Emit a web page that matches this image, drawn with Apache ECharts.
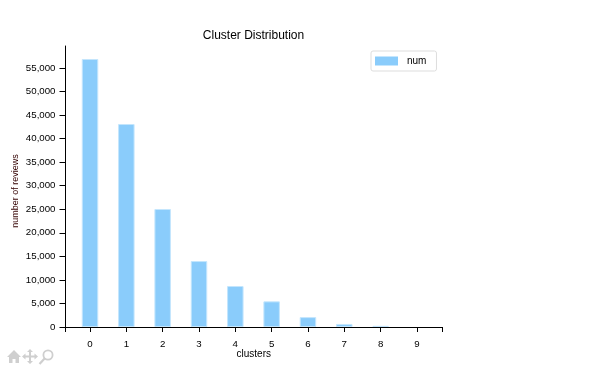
<!DOCTYPE html>
<html>
<head>
<meta charset="utf-8">
<style>
  html, body { margin: 0; padding: 0; background: #fff; }
  #chart { width: 594px; height: 391px; }
</style>
<script src="https://cdn.jsdelivr.net/npm/echarts@6/dist/echarts.min.js"></script>
</head>
<body>
<div id="chart"></div>
<script>
  const clusters = [0, 1, 2, 3, 4, 5, 6, 7, 8, 9]
  const num = [56900, 43100, 25050, 14000, 8700, 5450, 2100, 650, 250, 0]
  const seriesName = 'num'
  // the x axis runs a bit past the first and last cluster
  const xMin = -0.675
  const xMax = 9.69
  const yMax = 59660
  const yTicks = [0, 5000, 10000, 15000, 20000, 25000, 30000, 35000, 40000, 45000, 50000, 55000, yMax]

  const font = 'Arial, "Liberation Sans", sans-serif'
  const iconGrey = '#cfcfcf'
  const myChart = echarts.init(document.getElementById('chart'))

  // grey mpld3 style toolbar icons, only decoration
  const toolbar = [
    {
      type: 'polygon',
      shape: { points: [[7, 357], [14, 350], [21, 357], [19, 357], [19, 363], [15.5, 363], [15.5, 359], [12.5, 359], [12.5, 363], [9, 363], [9, 357]] },
      style: { fill: iconGrey },
    },
    {
      type: 'polygon',
      shape: { points: [[30, 349], [33, 352], [31, 352], [31, 355.5], [34.5, 355.5], [34.5, 353.5], [38, 356.5], [34.5, 359.5], [34.5, 357.5], [31, 357.5], [31, 361], [33, 361], [30, 364], [27, 361], [29, 361], [29, 357.5], [25.5, 357.5], [25.5, 359.5], [22, 356.5], [25.5, 353.5], [25.5, 355.5], [29, 355.5], [29, 352], [27, 352]] },
      style: { fill: iconGrey },
    },
    {
      type: 'circle',
      shape: { cx: 48, cy: 355, r: 4.6 },
      style: { fill: 'none', stroke: iconGrey, lineWidth: 1.8 },
    },
    {
      type: 'line',
      shape: { x1: 44.6, y1: 358.6, x2: 39.5, y2: 364 },
      style: { stroke: iconGrey, lineWidth: 2.2 },
    },
  ]

  myChart.setOption({
    animation: false,
    title: {
      text: 'Cluster Distribution',
      left: 248.5,
      top: 25,
      textAlign: 'center',
      textStyle: { fontFamily: font, fontSize: 12, fontWeight: 'normal', color: '#000' },
    },
    legend: {
      data: [seriesName],
      left: 371,
      top: 51,
      padding: [5, 10, 5, 4],
      itemWidth: 23,
      itemHeight: 9,
      itemGap: 0,
      borderColor: '#ddd',
      borderWidth: 1,
      borderRadius: 2,
      icon: 'rect',
      itemStyle: { borderWidth: 0 },
      textStyle: { fontFamily: font, fontSize: 10, color: '#000', padding: [0, 0, 0, 4] },
    },
    grid: { left: 65.5, top: 46, width: 376.5, height: 281, outerBoundsMode: 'none' },
    xAxis: {
      type: 'value',
      min: xMin,
      max: xMax,
      name: 'clusters',
      nameLocation: 'middle',
      nameGap: 22,
      nameMoveOverlap: false,
      nameTextStyle: { fontFamily: font, fontSize: 10, color: '#000' },
      splitLine: { show: false },
      axisLine: { show: true, onZero: false, lineStyle: { color: '#000', width: 1 } },
      axisTick: {
        show: true,
        length: 5,
        lineStyle: { color: '#000', width: 1 },
        customValues: [xMin, ...clusters, xMax],
      },
      axisLabel: {
        customValues: clusters,
        margin: 12,
        fontFamily: font,
        fontSize: 9.7,
        color: '#000',
      },
    },
    yAxis: {
      type: 'value',
      min: 0,
      max: yMax,
      interval: 5000,
      name: 'number of reviews',
      nameLocation: 'middle',
      nameGap: 45,
      nameMoveOverlap: false,
      nameTextStyle: { fontFamily: font, fontSize: 9, color: '#300', padding: [0, 9, 0, 0] },
      splitLine: { show: false },
      axisLine: { show: true, onZero: false, lineStyle: { color: '#000', width: 1 } },
      axisTick: {
        show: true,
        length: 6,
        lineStyle: { color: '#000', width: 1 },
        customValues: yTicks,
      },
      axisLabel: {
        showMaxLabel: false,
        margin: 10,
        fontFamily: font,
        fontSize: 9.7,
        color: '#000',
        formatter: (v) => v.toLocaleString('en-US'),
      },
    },
    series: [
      {
        name: seriesName,
        type: 'bar',
        barWidth: 16.5,
        // no border on an empty bar, it would leave a hairline on the axis
        data: clusters.map((c, i) => ({
          value: [c, num[i]],
          itemStyle: { borderWidth: num[i] ? 1 : 0 },
        })),
        itemStyle: { color: '#8accfb', borderColor: '#c4e6fd' },
      },
    ],
    graphic: toolbar,
  })
</script>
</body>
</html>
